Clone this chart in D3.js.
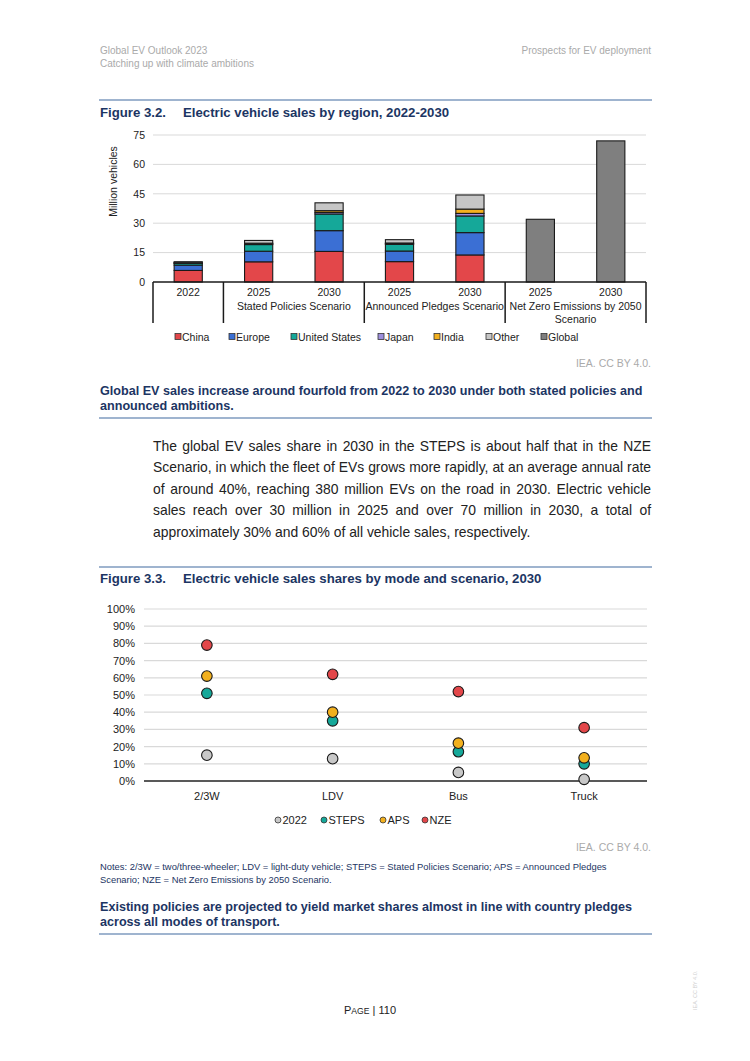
<!DOCTYPE html>
<html>
<head>
<meta charset="utf-8">
<script src="https://cdn.jsdelivr.net/npm/d3@7"></script>
<style>
  html, body { margin: 0; padding: 0; background: #fff; }
  #page { position: relative; width: 750px; height: 1061px; overflow: hidden; font-family: "Liberation Sans", Arial, sans-serif; }
  svg { position: absolute; left: 0; top: 0; }
  .para { position: absolute; left: 153px; width: 498px; font-size: 13.9px; color: #222; font-family: "Liberation Sans", Arial, sans-serif; white-space: nowrap; }
  .para div { text-align: justify; text-align-last: justify; height: 21.4px; line-height: 21.4px; }
  .para div.last { text-align-last: left; }
</style>
</head>
<body>
<div id="page"></div>
<script>
// ---------- Figure 3.2 data ----------
const barYears = ["2022", "2025", "2030", "2025", "2030", "2025", "2030"];
const scenarioGroups = ["", "Stated Policies Scenario", "Announced Pledges Scenario", "Net Zero Emissions by 2050|Scenario"];
const groupSpans = [1, 2, 2, 2];
const regionNames = ["China", "Europe", "United States", "Japan", "India", "Other", "Global"];
const china        = [5.9, 10.3, 15.6, 10.4, 13.8, 0, 0];
const europe       = [2.7, 5.4, 10.6, 5.4, 11.4, 0, 0];
const unitedStates = [1.0, 3.4, 8.5, 3.4, 8.5, 0, 0];
const japan        = [0.1, 0.4, 0.8, 0.4, 1.3, 0, 0];
const india        = [0.05, 0.3, 0.9, 0.3, 2.2, 0, 0];
const other        = [0.6, 1.4, 4.0, 1.7, 7.2, 0, 0];
const globalTotal  = [0, 0, 0, 0, 0, 32, 72];
const salesTicks   = [0, 15, 30, 45, 60, 75];

// ---------- Figure 3.3 data ----------
const modes = ["2/3W", "LDV", "Bus", "Truck"];
const share2022 = [15, 13, 5, 1];
const shareSTEPS = [51, 35, 17, 10];
const shareAPS = [61, 40, 22, 13.5];
const shareNZE = [79, 62, 52, 31];
const shareSeriesNames = ["2022", "STEPS", "APS", "NZE"];
const shareTicks = [0, 10, 20, 30, 40, 50, 60, 70, 80, 90, 100];

const regionColors = ["#e3474a", "#3b6fd4", "#15a899", "#9d8fdc", "#f2b01e", "#c6c6c6", "#7f7f7f"];
const shareColors = ["#c8c8c8", "#15a899", "#f2b01e", "#e3474a"];

const NAVY = "#1c3563";
const RULE = "#7f9bbf";
const FONT = "'Liberation Sans', Arial, sans-serif";
const FS = 10.5;

const page = d3.select("#page");
const svg = page.append("svg").attr("width", 750).attr("height", 1061)
  .style("font-family", FONT);

// ---------- header ----------
svg.append("text").attr("x", 100).attr("y", 54).attr("font-size", 10).attr("fill", "#aaa").text("Global EV Outlook 2023");
svg.append("text").attr("x", 100).attr("y", 67).attr("font-size", 10).attr("fill", "#aaa").text("Catching up with climate ambitions");
svg.append("text").attr("x", 651).attr("y", 54).attr("font-size", 10).attr("fill", "#aaa").attr("text-anchor", "end").text("Prospects for EV deployment");

function rule(y) {
  svg.append("line").attr("x1", 99).attr("x2", 652).attr("y1", y).attr("y2", y)
    .attr("stroke", RULE).attr("stroke-width", 1.3);
}
function figTitle(y, num, txt) {
  svg.append("text").attr("x", 100).attr("y", y).attr("font-size", 13.2).attr("font-weight", "bold").attr("fill", NAVY).text(num);
  svg.append("text").attr("x", 183).attr("y", y).attr("font-size", 13.2).attr("font-weight", "bold").attr("fill", NAVY).text(txt);
}

// ---------- Figure 3.2 ----------
rule(100);
figTitle(117, "Figure 3.2.", "Electric vehicle sales by region, 2022-2030");

const c1 = { left: 153, right: 646, top: 135, bottom: 282 };
const x1 = d3.scaleBand().domain(d3.range(barYears.length)).range([c1.left, c1.right]).paddingInner(0.6).paddingOuter(0.3);
const y1 = d3.scaleLinear().domain([0, 75]).range([c1.bottom, c1.top]);

const g1 = svg.append("g");
g1.append("g").selectAll("line").data(salesTicks.filter(d => d > 0)).join("line")
  .attr("x1", c1.left).attr("x2", c1.right)
  .attr("y1", d => y1(d)).attr("y2", d => y1(d))
  .attr("stroke", "#d9d9d9").attr("stroke-width", 1);
const yAx1 = g1.append("g").attr("transform", `translate(${c1.left},0)`)
  .call(d3.axisLeft(y1).tickValues(salesTicks).tickSize(0).tickPadding(8));
yAx1.select(".domain").remove();
yAx1.selectAll("text").attr("font-size", FS).attr("fill", "#222").style("font-family", FONT);

svg.append("text").attr("transform", `translate(117,${(c1.top + c1.bottom) / 2 - 27}) rotate(-90)`)
  .attr("text-anchor", "middle").attr("font-size", FS).attr("fill", "#222").text("Million vehicles");

const stackRows = barYears.map((y, i) => ({
  China: china[i], Europe: europe[i], "United States": unitedStates[i], Japan: japan[i],
  India: india[i], Other: other[i], Global: globalTotal[i], idx: i
}));
const stacked = d3.stack().keys(regionNames)(stackRows);
const color1 = d3.scaleOrdinal().domain(regionNames).range(regionColors);

g1.append("g").selectAll("g").data(stacked).join("g")
  .attr("fill", d => color1(d.key))
  .selectAll("rect").data(d => d.filter(p => p[1] - p[0] > 0)).join("rect")
  .attr("x", d => x1(d.data.idx))
  .attr("width", x1.bandwidth())
  .attr("y", d => y1(d[1]))
  .attr("height", d => y1(d[0]) - y1(d[1]))
  .attr("stroke", "#1a1a1a").attr("stroke-width", 1.1);

g1.append("line").attr("x1", c1.left).attr("x2", c1.right).attr("y1", c1.bottom).attr("y2", c1.bottom)
  .attr("stroke", "#1a1a1a").attr("stroke-width", 1.5);
const step1 = x1.step();
let cum = 0;
const bounds = [0];
groupSpans.forEach(s => { cum += s; bounds.push(cum); });
g1.append("g").selectAll("line").data(bounds).join("line")
  .attr("x1", d => c1.left + d * step1).attr("x2", d => c1.left + d * step1)
  .attr("y1", c1.bottom).attr("y2", 323)
  .attr("stroke", "#1a1a1a").attr("stroke-width", 1.5);
g1.append("g").selectAll("text").data(barYears).join("text")
  .attr("x", (d, i) => x1(i) + x1.bandwidth() / 2).attr("y", 296)
  .attr("text-anchor", "middle").attr("font-size", FS).attr("fill", "#222").text(d => d);
scenarioGroups.forEach((s, gi) => {
  if (!s) return;
  const cx = c1.left + (bounds[gi] + bounds[gi + 1]) / 2 * step1;
  s.split("|").forEach((line, li) => {
    g1.append("text").attr("x", cx).attr("y", 310 + li * 12.5).attr("text-anchor", "middle")
      .attr("font-size", FS).attr("fill", "#222").text(line);
  });
});

const leg1X = [175, 229, 291, 378, 434, 486, 541];
const leg1 = svg.append("g").selectAll("g").data(regionNames).join("g")
  .attr("transform", (d, i) => `translate(${leg1X[i]},337)`);
leg1.append("rect").attr("x", 0).attr("y", -3.5).attr("width", 6).attr("height", 6)
  .attr("fill", d => color1(d)).attr("stroke", "#333").attr("stroke-width", 0.8);
leg1.append("text").attr("x", 7).attr("y", 4).attr("font-size", FS).attr("fill", "#222").text(d => d);

svg.append("text").attr("x", 651).attr("y", 367).attr("text-anchor", "end").attr("font-size", 10.5).attr("fill", "#aaa").text("IEA. CC BY 4.0.");

svg.append("text").attr("x", 100).attr("y", 395).attr("font-size", 12.6).attr("font-weight", "bold").attr("fill", NAVY)
  .text("Global EV sales increase around fourfold from 2022 to 2030 under both stated policies and");
svg.append("text").attr("x", 100).attr("y", 410).attr("font-size", 12.6).attr("font-weight", "bold").attr("fill", NAVY)
  .text("announced ambitions.");
rule(418);

const paraLines = [
  "The global EV sales share in 2030 in the STEPS is about half that in the NZE",
  "Scenario, in which the fleet of EVs grows more rapidly, at an average annual rate",
  "of around 40%, reaching 380 million EVs on the road in 2030. Electric vehicle",
  "sales reach over 30 million in 2025 and over 70 million in 2030, a total of",
  "approximately 30% and 60% of all vehicle sales, respectively."
];
const para = page.append("div").attr("class", "para").style("top", "436px");
para.selectAll("div").data(paraLines).join("div")
  .attr("class", (d, i) => i === paraLines.length - 1 ? "last" : null)
  .text(d => d);

// ---------- Figure 3.3 ----------
rule(567);
figTitle(583, "Figure 3.3.", "Electric vehicle sales shares by mode and scenario, 2030");

const c2 = { left: 144, right: 647, top: 609, bottom: 781 };
const x2 = d3.scaleBand().domain(modes).range([c2.left, c2.right]);
const y2 = d3.scaleLinear().domain([0, 100]).range([c2.bottom, c2.top]);
const g2 = svg.append("g");
g2.append("g").selectAll("line").data(shareTicks.filter(d => d > 0)).join("line")
  .attr("x1", c2.left).attr("x2", c2.right)
  .attr("y1", d => y2(d)).attr("y2", d => y2(d))
  .attr("stroke", "#d9d9d9").attr("stroke-width", 1.2);
g2.append("line").attr("x1", c2.left).attr("x2", c2.right).attr("y1", c2.bottom).attr("y2", c2.bottom)
  .attr("stroke", "#222").attr("stroke-width", 1.6);
const yAx2 = g2.append("g").attr("transform", `translate(${c2.left},0)`)
  .call(d3.axisLeft(y2).tickValues(shareTicks).tickSize(0).tickPadding(9).tickFormat(d => d + "%"));
yAx2.select(".domain").remove();
yAx2.selectAll("text").attr("font-size", 11).attr("fill", "#222").style("font-family", FONT);
const xAx2 = g2.append("g").attr("transform", `translate(0,${c2.bottom})`)
  .call(d3.axisBottom(x2).tickSize(0).tickPadding(11));
xAx2.select(".domain").remove();
xAx2.selectAll("text").attr("font-size", 11).attr("fill", "#222").style("font-family", FONT);

const shareSeries = [share2022, shareSTEPS, shareAPS, shareNZE];
shareSeries.forEach((vals, si) => {
  g2.append("g").selectAll("circle").data(vals).join("circle")
    .attr("cx", (d, i) => x2(modes[i]) + x2.bandwidth() / 2)
    .attr("cy", d => y2(d))
    .attr("r", 5.3)
    .attr("fill", shareColors[si]).attr("stroke", "#1a1a1a").attr("stroke-width", 1.1);
});

const leg2X = [278, 324, 383, 425];
const leg2 = svg.append("g").selectAll("g").data(shareSeriesNames).join("g")
  .attr("transform", (d, i) => `translate(${leg2X[i]},820)`);
leg2.append("circle").attr("cx", 0).attr("cy", 0).attr("r", 3)
  .attr("fill", (d, i) => shareColors[i]).attr("stroke", "#333").attr("stroke-width", 0.8);
leg2.append("text").attr("x", 4.5).attr("y", 4).attr("font-size", 11).attr("fill", "#222").text(d => d);

svg.append("text").attr("x", 651).attr("y", 851).attr("text-anchor", "end").attr("font-size", 10.5).attr("fill", "#aaa").text("IEA. CC BY 4.0.");

svg.append("text").attr("x", 100).attr("y", 870).attr("font-size", 9.4).attr("fill", NAVY)
  .text("Notes: 2/3W = two/three-wheeler; LDV = light-duty vehicle; STEPS = Stated Policies Scenario; APS = Announced Pledges");
svg.append("text").attr("x", 100).attr("y", 883).attr("font-size", 9.4).attr("fill", NAVY)
  .text("Scenario; NZE = Net Zero Emissions by 2050 Scenario.");

svg.append("text").attr("x", 100).attr("y", 911).attr("font-size", 12.6).attr("font-weight", "bold").attr("fill", NAVY)
  .text("Existing policies are projected to yield market shares almost in line with country pledges");
svg.append("text").attr("x", 100).attr("y", 926).attr("font-size", 12.6).attr("font-weight", "bold").attr("fill", NAVY)
  .text("across all modes of transport.");
rule(934);

// ---------- footer ----------
const pg = svg.append("text").attr("x", 344).attr("y", 1014).attr("font-size", 11).attr("fill", "#222");
pg.append("tspan").text("P");
pg.append("tspan").attr("font-size", 8.6).text("AGE");
pg.append("tspan").text(" | 110");
svg.append("text").attr("transform", "translate(697,1010) rotate(-90)").attr("font-size", 5.5).attr("fill", "#d0d0d0")
  .text("IEA. CC BY 4.0.");
</script>
</body>
</html>
